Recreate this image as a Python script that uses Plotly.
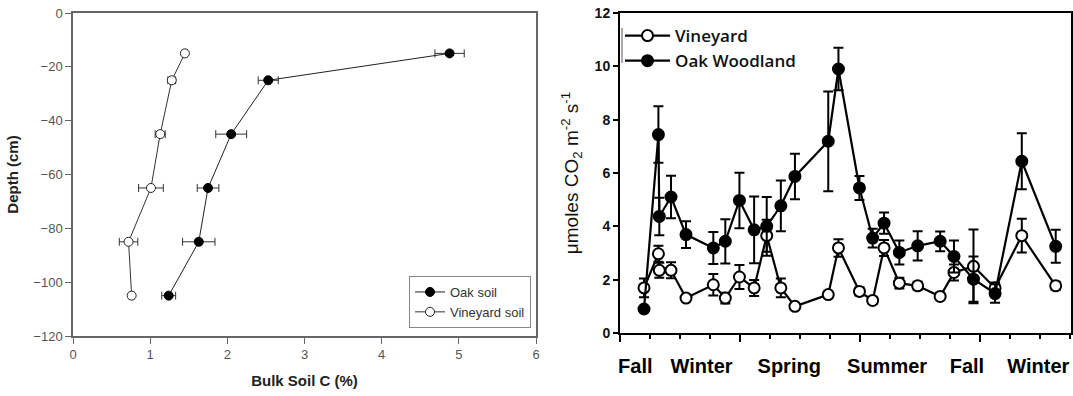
import plotly.graph_objects as go

# ---------------- Left panel data: bulk soil carbon profile ----------------
depth_cm = [-15, -25, -45, -65, -85, -105]
oak_soil_c = [4.88, 2.53, 2.05, 1.75, 1.63, 1.24]
oak_soil_err = [0.19, 0.13, 0.20, 0.14, 0.21, 0.09]
vine_soil_c = [1.45, 1.28, 1.13, 1.01, 0.72, 0.76]
vine_soil_err = [0.03, 0.05, 0.065, 0.16, 0.12, 0.03]

# ---------------- Right panel data: soil respiration over time ----------------
sample_month = [0.80, 1.28, 1.31, 1.70, 2.20, 3.11, 3.51, 3.98, 4.47, 4.89,
                5.36, 5.83, 6.94, 7.28, 7.98, 8.42, 8.80, 9.31, 9.92, 10.67,
                11.13, 11.78, 12.50, 13.39, 14.52]
vine_flux = [1.69, 2.97, 2.35, 2.35, 1.31, 1.81, 1.31, 2.10, 1.69, 3.65,
             1.69, 1.00, 1.44, 3.19, 1.56, 1.22, 3.19, 1.87, 1.77, 1.37,
             2.27, 2.50, 1.69, 3.65, 1.77]
vine_flux_err = [0.35, 0.30, 0.28, 0.30, 0.12, 0.40, 0.20, 0.45, 0.30, 0.60,
                 0.35, 0.12, 0.12, 0.33, 0.15, 0.12, 0.30, 0.20, 0.15, 0.12,
                 0.30, 1.38, 0.20, 0.63, 0.15]
oak_flux = [0.90, 7.44, 4.37, 5.10, 3.69, 3.19, 3.44, 4.97, 3.87, 4.00,
            4.77, 5.87, 7.19, 9.90, 5.44, 3.56, 4.12, 3.02, 3.27, 3.44,
            2.87, 2.02, 1.48, 6.44, 3.25]
oak_flux_err = [0.10, 1.06, 0.70, 0.80, 0.50, 0.60, 0.83, 1.04, 1.25, 1.10,
                0.95, 0.85, 1.87, 0.80, 0.45, 0.35, 0.40, 0.45, 0.55, 0.37,
                0.60, 0.85, 0.35, 1.05, 0.62]

season_pos = [0.51, 2.72, 5.64, 8.90, 11.56, 13.94]
season_labels = ["Fall", "Winter", "Spring", "Summer", "Fall", "Winter"]

W, H = 1073, 396

def px_x(p):
    return p / W

def px_y(p):
    return 1 - p / H

fig = go.Figure()

# ---- left panel traces ----
fig.add_trace(go.Scatter(
    x=oak_soil_c, y=depth_cm, name="Oak soil", mode="lines+markers",
    xaxis="x", yaxis="y", legend="legend",
    line=dict(color="#222", width=1),
    marker=dict(symbol="circle", size=9, color="black", line=dict(color="black", width=1)),
    error_x=dict(type="data", array=oak_soil_err, color="#333", thickness=1, width=4),
))
fig.add_trace(go.Scatter(
    x=vine_soil_c, y=depth_cm, name="Vineyard soil", mode="lines+markers",
    xaxis="x", yaxis="y", legend="legend",
    line=dict(color="#333", width=1),
    marker=dict(symbol="circle", size=9, color="white", line=dict(color="#222", width=1)),
    error_x=dict(type="data", array=vine_soil_err, color="#333", thickness=1, width=4),
))

# ---- right panel traces ----
fig.add_trace(go.Scatter(
    x=sample_month, y=vine_flux, name="Vineyard", mode="lines+markers",
    xaxis="x2", yaxis="y2", legend="legend2",
    line=dict(color="black", width=2.2),
    marker=dict(symbol="circle", size=11, color="white", line=dict(color="black", width=2)),
    error_y=dict(type="data", array=vine_flux_err, color="black", thickness=2, width=5),
))
fig.add_trace(go.Scatter(
    x=sample_month, y=oak_flux, name="Oak Woodland", mode="lines+markers",
    xaxis="x2", yaxis="y2", legend="legend2",
    line=dict(color="black", width=2.2),
    marker=dict(symbol="circle", size=11, color="black", line=dict(color="black", width=2)),
    error_y=dict(type="data", array=oak_flux_err, color="black", thickness=2, width=5),
))
# invisible trace that activates the season-label axis
fig.add_trace(go.Scatter(
    x=season_pos, y=[None] * len(season_pos), xaxis="x3", yaxis="y2",
    mode="markers", showlegend=False, hoverinfo="skip",
))

left_dom_x = [px_x(73), px_x(536)]
left_dom_y = [px_y(336), px_y(13)]
right_dom_x = [px_x(620), px_x(1071)]
right_dom_y = [px_y(333), px_y(13)]

grey_axis = dict(showline=True, linecolor="#666", linewidth=1.5, mirror=True,
                 ticks="outside", ticklen=6, tickcolor="#666", tickwidth=1.2,
                 showgrid=False, zeroline=False, ticklabeloverflow="allow",
                 tickfont=dict(family="Arial", size=13, color="#555"))

fig.update_layout(
    width=W, height=H,
    margin=dict(l=0, r=0, t=0, b=0, autoexpand=False),
    paper_bgcolor="white", plot_bgcolor="white",
    font=dict(family="Arial"),
    xaxis=dict(domain=left_dom_x, anchor="y", range=[0, 6], dtick=1,
               title=dict(text="<b>Bulk Soil C (%)</b>", font=dict(size=15, color="#222"), standoff=14),
               **grey_axis),
    yaxis=dict(domain=left_dom_y, anchor="x", range=[-120, 0], dtick=20,
               title=dict(text="<b>Depth (cm)</b>", font=dict(size=15, color="#222"), standoff=11),
               **grey_axis),
    xaxis2=dict(domain=right_dom_x, anchor="y2", range=[0, 15.03],
                tickvals=[0, 4, 8, 12], ticks="outside", ticklen=7, tickwidth=2, tickcolor="black",
                showticklabels=False,
                minor=dict(dtick=1, tick0=0, ticks="outside", ticklen=4, tickwidth=1.5, tickcolor="black"),
                showline=True, linecolor="black", linewidth=2, mirror=True,
                showgrid=False, zeroline=False),
    xaxis3=dict(overlaying="x2", anchor="y2", range=[0, 15.03], side="bottom",
                tickvals=season_pos, ticktext=season_labels, ticks="",
                ticklabelstandoff=19, ticklabeloverflow="allow",
                tickfont=dict(family="Arial", size=20, color="black", weight="bold"),
                showline=False, showgrid=False, zeroline=False),
    yaxis2=dict(domain=right_dom_y, anchor="x2", range=[0, 12], dtick=2,
                ticks="outside", ticklen=5, tickwidth=2, tickcolor="black",
                ticklabeloverflow="allow",
                tickfont=dict(family="Arial", size=14, color="#111", weight="bold"),
                showline=True, linecolor="black", linewidth=2, mirror=True,
                showgrid=False, zeroline=False,
                title=dict(text="\u03bcmoles CO<sub>2</sub> m<sup>-2</sup> s<sup>-1</sup>",
                           font=dict(family="Arial", size=19, color="#111"), standoff=11)),
    legend=dict(x=px_x(531), y=px_y(328), xanchor="right", yanchor="bottom",
                bgcolor="white", bordercolor="#888", borderwidth=1,
                font=dict(family="Arial", size=13, color="#333"),
                tracegroupgap=0),
    legend2=dict(x=px_x(620), y=px_y(18), xanchor="left", yanchor="top",
                 bgcolor="rgba(0,0,0,0)", borderwidth=0,
                 font=dict(family="Open Sans", size=17, color="#111", weight=600),
                 itemwidth=45, tracegroupgap=0),
    shapes=[dict(type="line", xref="paper", yref="paper",
                 x0=px_x(622), x1=px_x(622), y0=px_y(28), y1=px_y(63),
                 line=dict(color="#aaa", width=2))],
    showlegend=True,
)

# remove the default page margin so the figure fills the window exactly
fig.write_html(
    "out.html",
    config={"displayModeBar": False},
    post_script=("document.body.style.margin='0';"
                 "document.body.style.overflow='hidden';"
                 "document.documentElement.style.overflow='hidden';"),
)
